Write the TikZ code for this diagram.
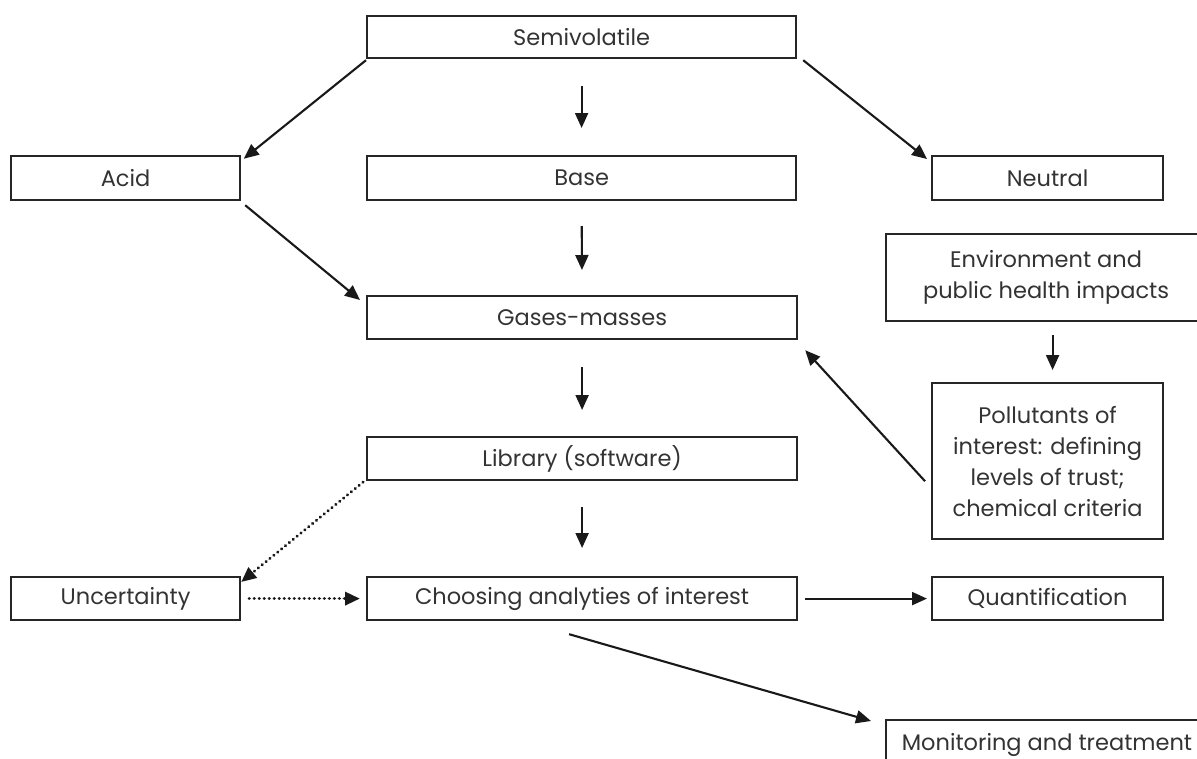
\documentclass[tikz,border=0pt]{standalone}
\usepackage{fontspec}
\setmainfont{Poppins}
\usetikzlibrary{arrows.meta,calc}
\begin{document}
\begin{tikzpicture}[x=1pt,y=-1pt,
  box/.style={draw=black!85,line width=2.2pt,inner sep=0pt,anchor=north west,align=center,
    font=\fontsize{22.5}{31}\selectfont,text=black!80},
  arr/.style={line width=2.1pt,draw=black!90,-{Triangle[length=15pt,width=13pt]}},
  dotarr/.style={line width=3.4pt,draw=black!90,dash pattern=on 0.01pt off 5pt,line cap=round,
    -{Triangle[length=15pt,width=13pt,line cap=butt]}}]
\useasboundingbox (0,0) rectangle (1197,758);
\newcommand{\bx}[6]{\node[box,minimum width=#4-#2,minimum height=#5-#3] (#1) at (#2,#3) {#6};}
\bx{semi}{366}{15}{795}{57}{Semivolatile}
\bx{acid}{10}{155}{239}{199}{Acid}
\bx{base}{366}{155}{795}{199}{Base}
\bx{neutral}{931}{155}{1162}{199}{Neutral}
\bx{env}{885}{233}{1205}{320}{Environment and\\public health impacts}
\bx{gases}{366}{295}{796}{338}{Gases-masses}
\bx{poll}{931}{382}{1162}{538}{Pollutants of\\interest: defining\\levels of trust;\\chemical criteria}
\bx{lib}{366}{436}{796}{479}{Library (software)}
\bx{unc}{10}{576}{239}{619}{Uncertainty}
\bx{choose}{366}{576}{796}{619}{Choosing analyties of interest}
\bx{quant}{931}{576}{1162}{619}{Quantification}
\node[box,minimum width=325,minimum height=70,text height=0pt,text depth=0pt] (mon) at (885,719) {};
\node[font=\fontsize{22.5}{31}\selectfont,text=black!80,anchor=base] (montext) at (1047,750) {Monitoring and treatment};
% connectors
\draw[arr,shorten <=0pt,shorten >=2pt] ([yshift=-1pt]semi.south west) -- ([xshift=1pt,yshift=-5pt]acid.north east);
\draw[arr] ([xshift=6pt,yshift=-1pt]semi.south east) -- ([xshift=-4pt,yshift=-4pt]neutral.north west);
\draw[arr,shorten <=27pt,shorten >=27pt] (semi.south) -- (base.north);
\draw[arr,shorten <=25pt,shorten >=25pt] (base.south) -- (gases.north);
\draw[arr,shorten <=27pt,shorten >=26pt] (gases.south) -- (lib.north);
\draw[arr,shorten <=26pt,shorten >=28pt] (lib.south) -- (choose.north);
\draw[arr,shorten <=13pt,shorten >=12pt] ([xshift=5pt]env.south -| poll.north) -- ([xshift=5pt]poll.north);
\draw[arr] ([xshift=4pt,yshift=-4pt]acid.south east) -- ([xshift=-6pt,yshift=-5pt]gases.north west);
\draw[arr] ([xshift=-6pt]poll.west |- lib.south) -- ([xshift=7pt,yshift=-10pt]gases.south east);
\draw[dotarr] ([xshift=-3pt,yshift=-1pt]lib.south west) -- ([xshift=0pt,yshift=-6pt]unc.north east);
\draw[dotarr] ([xshift=8pt]unc.east) -- ([xshift=-6pt]choose.west);
\draw[arr] ([xshift=7pt]choose.east) -- ([xshift=-4pt]quant.west);
\draw[arr] ([xshift=-13pt,yshift=-13pt]choose.south) -- ([xshift=-14pt,yshift=-2pt]mon.north west);
\end{tikzpicture}
\end{document}
